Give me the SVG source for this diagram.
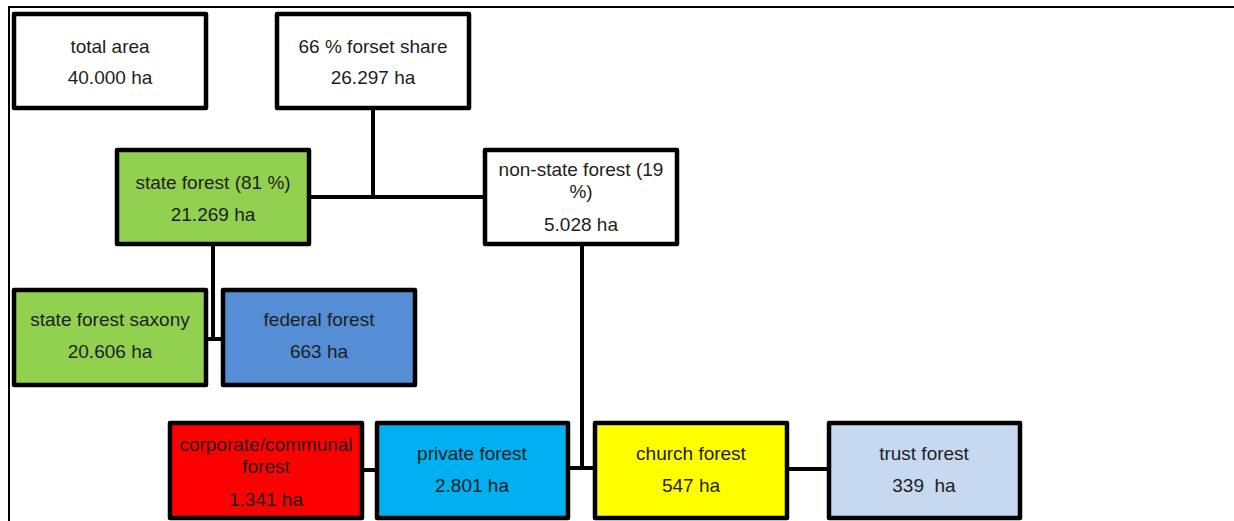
<svg xmlns="http://www.w3.org/2000/svg" width="1234" height="521" viewBox="0 0 1234 521">
<style>
.box{stroke:#000;stroke-width:4.5;stroke-linejoin:round}
.t{font-family:"Liberation Sans",Arial,sans-serif;font-size:19px;fill:#1e1e1e;text-anchor:middle}
.c{stroke:#000;stroke-width:4;fill:none}
</style>
<defs>
<clipPath id="clipCorp"><rect x="170" y="423" width="192" height="95"/></clipPath>
</defs>
<rect width="1234" height="521" fill="#fff"/>
<g id="frame">
<line x1="9" y1="7" x2="1234" y2="7" stroke="#000" stroke-width="2"/>
<line x1="9" y1="6" x2="9" y2="521" stroke="#000" stroke-width="2"/>
</g>
<g id="connectors">
<polyline class="c" points="373,110 373,197"/>
<polyline class="c" points="311,197 483,197"/>
<polyline class="c" points="213,246 213,339 208,339"/>
<polyline class="c" points="213,339 221,339"/>
<polyline class="c" points="582,246 582,468"/>
<polyline class="c" points="570,468 593,468"/>
<polyline class="c" points="364,470 375,470"/>
<polyline class="c" points="789,469 827,469"/>
</g>
<g id="total-area">
<rect class="box" x="14" y="14" width="192" height="94" fill="#fff"/>
<text class="t" x="110" y="53">total area</text>
<text class="t" x="110" y="84">40.000 ha</text>
</g>
<g id="forest-share">
<rect class="box" x="277" y="14" width="192" height="94" fill="#fff"/>
<text class="t" x="373" y="53">66 % forset share</text>
<text class="t" x="373" y="84">26.297 ha</text>
</g>
<g id="state-forest">
<rect class="box" x="117" y="150" width="192" height="94" fill="#92d050"/>
<text class="t" x="213" y="189">state forest (81 %)</text>
<text class="t" x="213" y="221">21.269 ha</text>
</g>
<g id="non-state-forest">
<rect class="box" x="485" y="150" width="192" height="94" fill="#fff"/>
<text class="t" x="581" y="176">non-state forest (19</text>
<text class="t" x="581" y="198">%)</text>
<text class="t" x="581" y="231">5.028 ha</text>
</g>
<g id="state-forest-saxony">
<rect class="box" x="14" y="290" width="192" height="95" fill="#92d050"/>
<text class="t" x="110" y="326">state forest saxony</text>
<text class="t" x="110" y="358">20.606 ha</text>
</g>
<g id="federal-forest">
<rect class="box" x="223" y="290" width="192" height="95" fill="#558ed5"/>
<text class="t" x="319" y="326">federal forest</text>
<text class="t" x="319" y="358">663 ha</text>
</g>
<g id="corporate-forest">
<rect class="box" x="170" y="423" width="192" height="95" fill="#ff0000"/>
<g clip-path="url(#clipCorp)">
<text class="t" x="266" y="451">corporate/communal</text>
<text class="t" x="266" y="473">forest</text>
<text class="t" x="266" y="506">1.341 ha</text>
</g>
</g>
<g id="private-forest">
<rect class="box" x="377" y="423" width="191" height="95" fill="#00b0f0"/>
<text class="t" x="472" y="460">private forest</text>
<text class="t" x="472" y="492">2.801 ha</text>
</g>
<g id="church-forest">
<rect class="box" x="595" y="423" width="192" height="95" fill="#ffff00"/>
<text class="t" x="691" y="460">church forest</text>
<text class="t" x="691" y="492">547 ha</text>
</g>
<g id="trust-forest">
<rect class="box" x="829" y="423" width="191" height="95" fill="#c6d9f1"/>
<text class="t" x="924" y="460">trust forest</text>
<text class="t" x="924" y="492" xml:space="preserve">339  ha</text>
</g>
</svg>
